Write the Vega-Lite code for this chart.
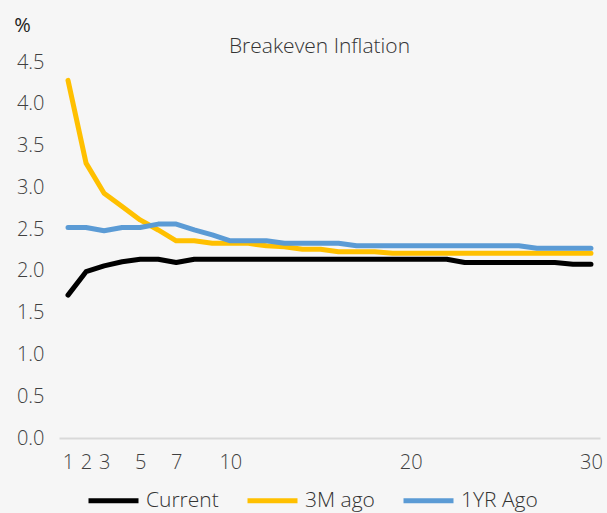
{
  "$schema": "https://vega.github.io/schema/vega-lite/v6.json",
  "width": 541,
  "height": 376,
  "autosize": {"type": "none"},
  "padding": {"left": 59, "top": 62, "right": 7, "bottom": 75},
  "background": "#f6f6f6",
  "title": {"text": "Breakeven Inflation", "fontSize": 21, "font": "Open Sans", "fontWeight": 300, "color": "#333333", "anchor": "middle", "frame": "group", "dy": 46, "dx": -10},
  "config": {
    "view": {"stroke": null},
    "font": "Open Sans",
    "axis": {"labelFont": "Open Sans", "labelColor": "#404040", "labelFontSize": 20, "labelFontWeight": 300, "titleFont": "Open Sans"},
    "legend": {"labelFont": "Open Sans", "labelColor": "#333333", "labelFontSize": 21, "labelFontWeight": 300}
  },
  "data": {"values": [
    {"m": 1, "s": "Current", "v": 1.71}, {"m": 2, "s": "Current", "v": 1.99}, {"m": 3, "s": "Current", "v": 2.06}, {"m": 4, "s": "Current", "v": 2.11}, {"m": 5, "s": "Current", "v": 2.14}, {"m": 6, "s": "Current", "v": 2.14}, {"m": 7, "s": "Current", "v": 2.10}, {"m": 8, "s": "Current", "v": 2.14}, {"m": 9, "s": "Current", "v": 2.14}, {"m": 10, "s": "Current", "v": 2.14}, {"m": 11, "s": "Current", "v": 2.14}, {"m": 12, "s": "Current", "v": 2.14}, {"m": 13, "s": "Current", "v": 2.14}, {"m": 14, "s": "Current", "v": 2.14}, {"m": 15, "s": "Current", "v": 2.14}, {"m": 16, "s": "Current", "v": 2.14}, {"m": 17, "s": "Current", "v": 2.14}, {"m": 18, "s": "Current", "v": 2.14}, {"m": 19, "s": "Current", "v": 2.14}, {"m": 20, "s": "Current", "v": 2.14}, {"m": 21, "s": "Current", "v": 2.14}, {"m": 22, "s": "Current", "v": 2.14}, {"m": 23, "s": "Current", "v": 2.10}, {"m": 24, "s": "Current", "v": 2.10}, {"m": 25, "s": "Current", "v": 2.10}, {"m": 26, "s": "Current", "v": 2.10}, {"m": 27, "s": "Current", "v": 2.10}, {"m": 28, "s": "Current", "v": 2.10}, {"m": 29, "s": "Current", "v": 2.08}, {"m": 30, "s": "Current", "v": 2.08},
    {"m": 1, "s": "3M ago", "v": 4.28}, {"m": 2, "s": "3M ago", "v": 3.29}, {"m": 3, "s": "3M ago", "v": 2.93}, {"m": 4, "s": "3M ago", "v": 2.77}, {"m": 5, "s": "3M ago", "v": 2.61}, {"m": 6, "s": "3M ago", "v": 2.49}, {"m": 7, "s": "3M ago", "v": 2.36}, {"m": 8, "s": "3M ago", "v": 2.36}, {"m": 9, "s": "3M ago", "v": 2.33}, {"m": 10, "s": "3M ago", "v": 2.33}, {"m": 11, "s": "3M ago", "v": 2.33}, {"m": 12, "s": "3M ago", "v": 2.30}, {"m": 13, "s": "3M ago", "v": 2.29}, {"m": 14, "s": "3M ago", "v": 2.26}, {"m": 15, "s": "3M ago", "v": 2.26}, {"m": 16, "s": "3M ago", "v": 2.23}, {"m": 17, "s": "3M ago", "v": 2.23}, {"m": 18, "s": "3M ago", "v": 2.23}, {"m": 19, "s": "3M ago", "v": 2.21}, {"m": 20, "s": "3M ago", "v": 2.21}, {"m": 21, "s": "3M ago", "v": 2.21}, {"m": 22, "s": "3M ago", "v": 2.21}, {"m": 23, "s": "3M ago", "v": 2.21}, {"m": 24, "s": "3M ago", "v": 2.21}, {"m": 25, "s": "3M ago", "v": 2.21}, {"m": 26, "s": "3M ago", "v": 2.21}, {"m": 27, "s": "3M ago", "v": 2.21}, {"m": 28, "s": "3M ago", "v": 2.21}, {"m": 29, "s": "3M ago", "v": 2.21}, {"m": 30, "s": "3M ago", "v": 2.21},
    {"m": 1, "s": "1YR Ago", "v": 2.52}, {"m": 2, "s": "1YR Ago", "v": 2.52}, {"m": 3, "s": "1YR Ago", "v": 2.48}, {"m": 4, "s": "1YR Ago", "v": 2.52}, {"m": 5, "s": "1YR Ago", "v": 2.52}, {"m": 6, "s": "1YR Ago", "v": 2.56}, {"m": 7, "s": "1YR Ago", "v": 2.56}, {"m": 8, "s": "1YR Ago", "v": 2.49}, {"m": 9, "s": "1YR Ago", "v": 2.43}, {"m": 10, "s": "1YR Ago", "v": 2.36}, {"m": 11, "s": "1YR Ago", "v": 2.36}, {"m": 12, "s": "1YR Ago", "v": 2.36}, {"m": 13, "s": "1YR Ago", "v": 2.33}, {"m": 14, "s": "1YR Ago", "v": 2.33}, {"m": 15, "s": "1YR Ago", "v": 2.33}, {"m": 16, "s": "1YR Ago", "v": 2.33}, {"m": 17, "s": "1YR Ago", "v": 2.30}, {"m": 18, "s": "1YR Ago", "v": 2.30}, {"m": 19, "s": "1YR Ago", "v": 2.30}, {"m": 20, "s": "1YR Ago", "v": 2.30}, {"m": 21, "s": "1YR Ago", "v": 2.30}, {"m": 22, "s": "1YR Ago", "v": 2.30}, {"m": 23, "s": "1YR Ago", "v": 2.30}, {"m": 24, "s": "1YR Ago", "v": 2.30}, {"m": 25, "s": "1YR Ago", "v": 2.30}, {"m": 26, "s": "1YR Ago", "v": 2.30}, {"m": 27, "s": "1YR Ago", "v": 2.27}, {"m": 28, "s": "1YR Ago", "v": 2.27}, {"m": 29, "s": "1YR Ago", "v": 2.27}, {"m": 30, "s": "1YR Ago", "v": 2.27}
  ]},
  "mark": {"type": "line", "strokeWidth": 5, "strokeCap": "round", "strokeJoin": "round"},
  "encoding": {
    "x": {"field": "m", "type": "quantitative", "scale": {"domain": [0.5, 30.5], "nice": false, "zero": false},
      "axis": {"title": null, "values": [1, 2, 3, 5, 7, 10, 20, 30], "grid": false, "ticks": false, "domainColor": "#d9d9d9", "domainWidth": 2, "labelPadding": 14, "labelFlush": false}},
    "y": {"field": "v", "type": "quantitative", "scale": {"domain": [0, 4.5], "nice": false},
      "axis": {"title": "%", "titleAngle": 0, "titleAlign": "center", "titleBaseline": "middle", "titleX": -37, "titleY": -37, "titleFontSize": 20, "titleFontWeight": "normal", "titleColor": "#222222", "values": [0, 0.5, 1, 1.5, 2, 2.5, 3, 3.5, 4, 4.5], "format": ".1f", "grid": false, "ticks": false, "domain": false, "labelPadding": 15}},
    "color": {"field": "s", "type": "nominal", "sort": ["Current", "3M ago", "1YR Ago"],
      "scale": {"domain": ["Current", "3M ago", "1YR Ago"], "range": ["#000000", "#FFC000", "#5B9BD5"]},
      "legend": {"title": null, "orient": "none", "legendX": 27, "legendY": 411, "direction": "horizontal", "symbolType": "stroke", "symbolSize": 2500, "symbolStrokeWidth": 5, "labelOffset": 5, "columnPadding": 18}}
  }
}
